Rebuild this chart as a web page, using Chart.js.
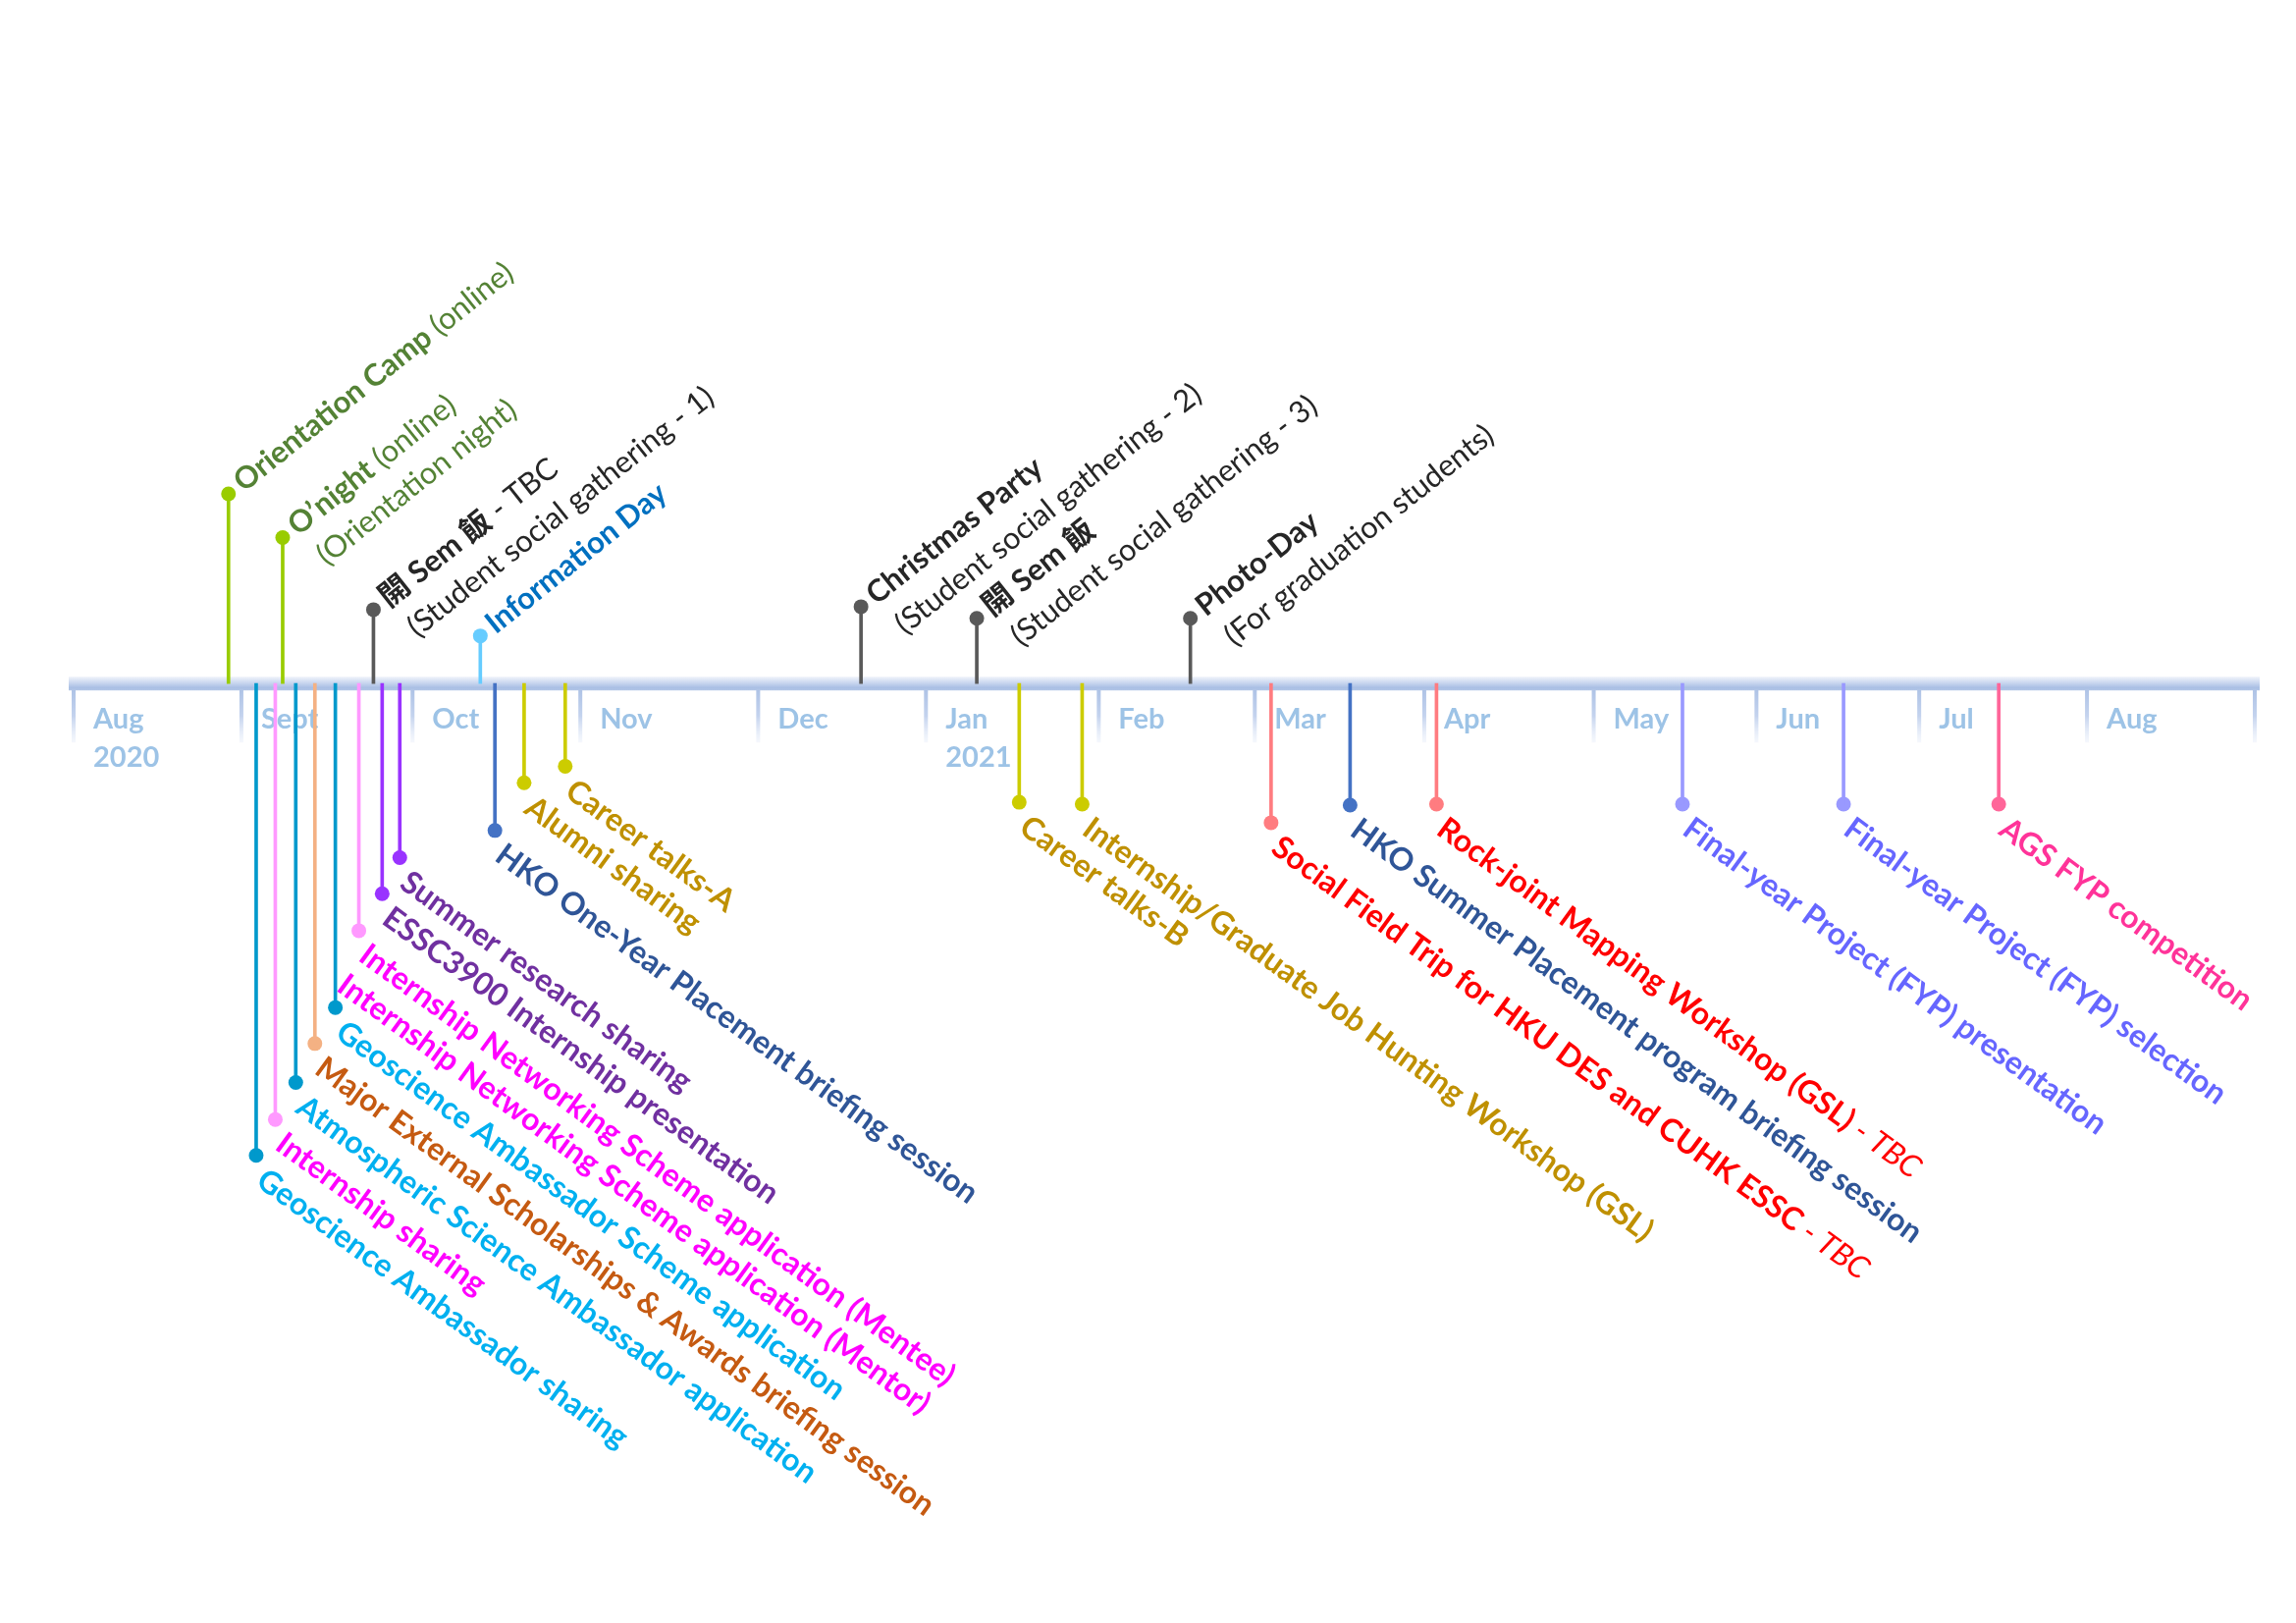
<!DOCTYPE html>
<html>
<head>
<meta charset="utf-8">
<script src="https://cdn.jsdelivr.net/npm/chart.js@4.4.1/dist/chart.umd.min.js"></script>
<style>
  html, body { margin: 0; padding: 0; background: #fff; }
  canvas { display: block; }
</style>
</head>
<body>
<canvas id="timeline" width="2339" height="1653"></canvas>
<script>
// month boundaries on the axis (0 = start of Aug 2020, one unit per month)
const monthTicks = [0, 1, 2.02, 3.02, 4.08, 5.08, 6.11, 7.04, 8.05, 9.06, 10.03, 11, 12, 13];
const monthLabels = [['Aug', '2020'], 'Sept', 'Oct', 'Nov', 'Dec', ['Jan', '2021'], 'Feb', 'Mar', 'Apr', 'May', 'Jun', 'Jul', 'Aug', ''];

// events: where they sit on the month axis and how long the stem is (+ above, - below)
const eventPos = [0.923, 1.088, 1.202, 1.246, 1.324, 1.438, 1.560, 1.700, 1.787, 1.839, 1.944,
  2.424, 2.511, 2.685, 2.930, 4.693, 5.383, 5.636, 6.011, 6.656, 7.137, 7.608, 8.123, 9.589, 10.549, 11.474];
const eventLevel = [195, -485, -448, 150, -410, -370, -333, -254, 76, -216, -179,
  49, -151, -102, -85, 79, 67, -122, -124, 67, -143, -125, -124, -124, -124, -124];
// text is bold by default, {..} = regular, [..] = regular italic
const eventText = [
  ['Orientation Camp {(online)}'],
  ['Geoscience Ambassador sharing'],
  ['Internship sharing'],
  ['O\u2019night {(online)}', '{(Orientation night)}'],
  ['Atmospheric Science Ambassador application'],
  ['Major External Scholarships & Awards briefing session'],
  ['Geoscience Ambassador Scheme application'],
  ['Internship Networking Scheme application (Mentee)', 'Internship Networking Scheme application (Mentor)'],
  ['開 Sem 飯{ - TBC}', '{(Student social gathering - 1)}'],
  ['ESSC3900 Internship presentation'],
  ['Summer research sharing'],
  ['Information Day'],
  ['HKO One-Year Placement briefing session'],
  ['Alumni sharing'],
  ['Career talks-A'],
  ['Christmas Party', '{(Student social gathering - 2)}'],
  ['開 Sem 飯', '{(Student social gathering - 3)}'],
  ['Career talks-B'],
  ['Internship/Graduate Job Hunting Workshop (GSL)'],
  ['Photo-Day', '{(For graduation students)}'],
  ['Social Field Trip for HKU DES and CUHK ESSC[ - TBC]'],
  ['HKO Summer Placement program briefing session'],
  ['Rock-joint Mapping Workshop (GSL)[ - TBC]'],
  ['Final-year Project (FYP) presentation'],
  ['Final-year Project (FYP) selection'],
  ['AGS FYP competition']
];

const stemColors = ['#99cc00', '#0099cc', '#ff99ff', '#99cc00', '#0099cc', '#f4b183', '#0099cc', '#ff99ff', '#595959', '#9933ff', '#9933ff',
  '#66ccff', '#4472c4', '#cccc00', '#cccc00', '#595959', '#595959', '#cccc00', '#cccc00', '#595959', '#ff7c80', '#4472c4', '#ff7c80', '#9999ff', '#9999ff', '#ff6699'];
const textColors = ['#548235', '#00b0f0', '#ff00ff', '#548235', '#00b0f0', '#c55a11', '#00b0f0', '#ff00ff', '#262626', '#7030a0', '#7030a0',
  '#0070c0', '#2f5597', '#bf9000', '#bf9000', '#262626', '#262626', '#bf9000', '#bf9000', '#262626', '#ff0000', '#2f5597', '#ff0000', '#6666ff', '#6666ff', '#ff3399'];

const FONT = 'Lato, "Noto Sans CJK TC", sans-serif';
const UP_SIZE = 31;
const DOWN_SIZE = 32;

function runs(str) {
  const out = [];
  const re = /\{([^}]*)\}|\[([^\]]*)\]|([^{\[]+)/g;
  let m;
  while ((m = re.exec(str))) {
    if (m[1] !== undefined) out.push({ t: m[1], w: 'normal', s: 'normal' });
    else if (m[2] !== undefined) out.push({ t: m[2], w: 'normal', s: 'italic' });
    else out.push({ t: m[3], w: 'bold', s: 'normal' });
  }
  return out;
}

const timelinePlugin = {
  id: 'timeline',
  beforeDatasetsDraw(chart) {
    const { ctx, scales: { x, y } } = chart;
    const y0 = y.getPixelForValue(0);
    ctx.save();
    monthTicks.forEach(v => {
      const px = x.getPixelForValue(v);
      const g = ctx.createLinearGradient(0, y0, 0, y0 + 60);
      g.addColorStop(0, '#a9bfe4');
      g.addColorStop(0.55, '#c4d3ee');
      g.addColorStop(1, 'rgba(235,240,250,0.5)');
      ctx.fillStyle = g;
      ctx.fillRect(px - 2, y0, 4, 60);
    });
    const band = ctx.createLinearGradient(0, y0 - 7, 0, y0 + 7);
    band.addColorStop(0, '#f0f4fb');
    band.addColorStop(0.45, '#c9d6ef');
    band.addColorStop(0.8, '#a9bfe4');
    band.addColorStop(1, '#b3c6e7');
    ctx.fillStyle = band;
    ctx.fillRect(x.left - 5, y0 - 7, x.right - x.left + 10, 14);
    ctx.restore();
  },
  afterDatasetsDraw(chart) {
    const ctx = chart.ctx;
    const dots = chart.getDatasetMeta(1).data;
    dots.forEach((pt, i) => {
      const up = eventLevel[i] > 0;
      const size = up ? UP_SIZE : DOWN_SIZE;
      ctx.save();
      ctx.translate(pt.x, pt.y);
      ctx.rotate((up ? -38.5 : 36) * Math.PI / 180);
      ctx.fillStyle = textColors[i];
      ctx.textBaseline = 'alphabetic';
      ctx.textAlign = 'left';
      eventText[i].forEach((line, k) => {
        let cx = up ? 13 + k * 4 : 16;
        const cy = up ? 9 + k * 42 : 25 + k * 38;
        runs(line).forEach(r => {
          ctx.font = `${r.s} ${r.w} ${size}px ${FONT}`;
          ctx.fillText(r.t, cx, cy);
          cx += ctx.measureText(r.t).width;
        });
      });
      ctx.restore();
    });
  }
};

new Chart(document.getElementById('timeline'), {
  type: 'bar',
  data: {
    datasets: [
      {
        type: 'bar',
        data: eventPos.map((x, i) => ({ x: x, y: [0, eventLevel[i]] })),
        backgroundColor: stemColors,
        barThickness: 3,
        borderWidth: 0,
        grouped: false
      },
      {
        type: 'scatter',
        data: eventPos.map((x, i) => ({ x: x, y: eventLevel[i] })),
        pointRadius: 7.5,
        pointBackgroundColor: stemColors,
        pointBorderWidth: 0
      }
    ]
  },
  options: {
    responsive: false,
    animation: false,
    events: [],
    layout: { padding: { left: 75, right: 42, top: 0, bottom: 0 } },
    plugins: { legend: { display: false }, tooltip: { enabled: false } },
    scales: {
      x: {
        type: 'linear',
        min: 0,
        max: 13,
        offset: false,
        position: { y: 0 },
        afterBuildTicks: s => { s.ticks = monthTicks.map(v => ({ value: v })); },
        grid: { display: false, drawTicks: false },
        border: { display: false },
        ticks: {
          autoSkip: false,
          maxRotation: 0,
          align: 'start',
          labelOffset: 20,
          padding: 17,
          color: '#9dc3e6',
          font: { family: 'Lato', size: 29, weight: 'bold', lineHeight: 1.35 },
          callback: (v, i) => monthLabels[i]
        }
      },
      y: { type: 'linear', min: -958, max: 695, display: false }
    }
  },
  plugins: [timelinePlugin]
});
</script>
</body>
</html>
